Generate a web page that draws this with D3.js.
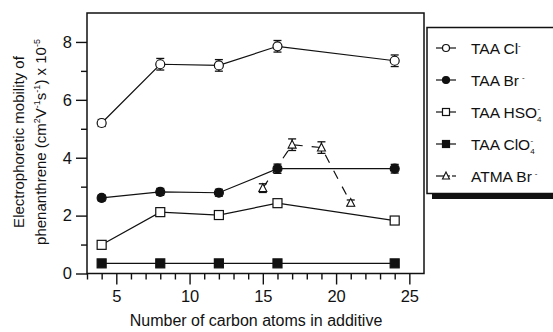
<!DOCTYPE html>
<html><head><meta charset="utf-8">
<script src="https://cdn.jsdelivr.net/npm/d3@7"></script>
<style>
body{margin:0;background:#fff;}
svg{display:block;font-family:Arial,"Liberation Sans",sans-serif;}
</style></head>
<body><svg id="c" width="553" height="332"></svg>
<script>
// Data
const clX = [4, 8, 12, 16, 24];
const clY = [5.2, 7.23, 7.19, 7.85, 7.35];
const clErr = [0.12, 0.2, 0.2, 0.2, 0.2];
const brX = [4, 8, 12, 16, 24];
const brY = [2.61, 2.82, 2.79, 3.62, 3.62];
const brErr = [0.1, 0.12, 0.12, 0.16, 0.15];
const hsX = [4, 8, 12, 16, 24];
const hsY = [0.99, 2.12, 2.02, 2.43, 1.83];
const clo4X = [4, 8, 12, 16, 24];
const clo4Y = [0.35, 0.35, 0.35, 0.35, 0.35];
const atX = [15, 17, 19, 21];
const atY = [2.95, 4.45, 4.35, 2.44];
const atErr = [0.15, 0.2, 0.2, 0.1];
const xMajor = [5, 10, 15, 20, 25];
const yMajor = [0, 2, 4, 6, 8];
const legendNames = ["TAA Cl", "TAA Br", "TAA HSO", "TAA ClO", "ATMA Br"];

const svg = d3.select("#c");
const x = d3.scaleLinear().domain([3, 26]).range([87, 424]);
const y = d3.scaleLinear().domain([0, 9]).range([273.5, 13]);
const ink = "#111";
const FF = "Arial,'Liberation Sans',sans-serif";

// frame
svg.append("rect").attr("x", 87).attr("y", 13).attr("width", 424-87).attr("height", 273.5-13)
  .attr("fill", "none").attr("stroke", ink).attr("stroke-width", 1.5);

// x axis
const xMinor = d3.range(3, 26).filter(v => v % 5 !== 0);
svg.append("g").attr("transform", "translate(0,273.5)")
  .call(d3.axisBottom(x).tickValues(xMinor).tickSize(6).tickFormat(""))
  .call(g => g.select(".domain").remove());
svg.append("g").attr("transform", "translate(0,273.5)")
  .call(d3.axisBottom(x).tickValues(xMajor).tickSize(11).tickPadding(6).tickFormat(d3.format("d")))
  .call(g => g.select(".domain").remove())
  .call(g => g.selectAll("text").attr("font-size", 16.5).attr("fill", ink).attr("font-family", FF));
// y axis
const yMinor = [1, 3, 5, 7];
svg.append("g").attr("transform", "translate(87,0)")
  .call(d3.axisLeft(y).tickValues(yMinor).tickSize(6).tickFormat(""))
  .call(g => g.select(".domain").remove());
svg.append("g").attr("transform", "translate(87,0)")
  .call(d3.axisLeft(y).tickValues(yMajor).tickSize(11).tickPadding(4).tickFormat(d3.format("d")))
  .call(g => g.select(".domain").remove())
  .call(g => g.selectAll("text").attr("font-size", 16.5).attr("fill", ink).attr("font-family", FF));
svg.selectAll(".tick line").attr("stroke", ink).attr("stroke-width", 1.4);

// axis labels
svg.append("text").attr("x", 256).attr("y", 326).attr("text-anchor", "middle")
  .attr("font-size", 16).attr("fill", ink).text("Number of carbon atoms in additive");
const yl = svg.append("text").attr("transform", "translate(0,142) rotate(-90)")
  .attr("text-anchor", "middle").attr("font-size", 15).attr("fill", ink);
yl.append("tspan").attr("x", 0).attr("y", 24).text("Electrophoretic mobility of");
const yl2 = yl.append("tspan").attr("x", 0).attr("y", 46);
yl2.text("phenanthrene (cm");
yl2.append("tspan").attr("dy", -6).attr("font-size", 9).text("2");
yl2.append("tspan").attr("dy", 6).text("V");
yl2.append("tspan").attr("dy", -6).attr("font-size", 9).text("-1");
yl2.append("tspan").attr("dy", 6).text("s");
yl2.append("tspan").attr("dy", -6).attr("font-size", 9).text("-1");
yl2.append("tspan").attr("dy", 6).text(") x 10");
yl2.append("tspan").attr("dy", -6).attr("font-size", 9).text("-5");

// series helpers
function zip(xs, ys, es) { return xs.map((v, i) => ({x: v, y: ys[i], e: es ? es[i] : 0})); }
const line = d3.line().x(d => x(d.x)).y(d => y(d.y));
function drawLine(data, dash) {
  svg.append("path").datum(data).attr("d", line).attr("fill", "none")
    .attr("stroke", ink).attr("stroke-width", 1.2).attr("stroke-dasharray", dash || null);
}
function drawErr(data) {
  data.filter(d => d.e > 0).forEach(d => {
    const g = svg.append("g").attr("stroke", ink).attr("stroke-width", 1.3);
    g.append("line").attr("x1", x(d.x)).attr("x2", x(d.x)).attr("y1", y(d.y - d.e)).attr("y2", y(d.y + d.e));
    g.append("line").attr("x1", x(d.x)-4).attr("x2", x(d.x)+4).attr("y1", y(d.y - d.e)).attr("y2", y(d.y - d.e));
    g.append("line").attr("x1", x(d.x)-4).attr("x2", x(d.x)+4).attr("y1", y(d.y + d.e)).attr("y2", y(d.y + d.e));
  });
}
function marker(g, type, cx, cy, s) {
  if (type === "oc" || type === "fc") {
    g.append("circle").attr("cx", cx).attr("cy", cy).attr("r", s/2)
      .attr("fill", type === "fc" ? ink : "#fff").attr("stroke", ink).attr("stroke-width", 1.2);
  } else if (type === "os" || type === "fs") {
    g.append("rect").attr("x", cx - s/2).attr("y", cy - s/2).attr("width", s).attr("height", s)
      .attr("fill", type === "fs" ? ink : "#fff").attr("stroke", ink).attr("stroke-width", 1.2);
  } else if (type === "ot") {
    const h = s * 0.85;
    g.append("path").attr("d", `M${cx},${cy - h/2 - 1}L${cx + s/2},${cy + h/2}L${cx - s/2},${cy + h/2}Z`)
      .attr("fill", "#fff").attr("stroke", ink).attr("stroke-width", 1.1);
  }
}
function drawMarkers(data, type, s) {
  const g = svg.append("g");
  data.forEach(d => marker(g, type, x(d.x), y(d.y), s));
}

const series = [
  {data: zip(clX, clY, clErr), type: "oc", dash: null, s: 9},
  {data: zip(brX, brY, brErr), type: "fc", dash: null, s: 9},
  {data: zip(hsX, hsY), type: "os", dash: null, s: 9},
  {data: zip(clo4X, clo4Y), type: "fs", dash: null, s: 9},
  {data: zip(atX, atY, atErr), type: "ot", dash: "9,9", s: 8}
];
series.forEach(s => drawLine(s.data, s.dash));
series.forEach(s => { drawErr(s.data); drawMarkers(s.data, s.type, s.s); });

// legend
svg.append("rect").attr("x", 432).attr("y", 193).attr("width", 130).attr("height", 6).attr("fill", ink);
svg.append("rect").attr("x", 427).attr("y", 27.5).attr("width", 140).attr("height", 166)
  .attr("fill", "#fff").attr("stroke", ink).attr("stroke-width", 1.5);
const lg = svg.append("g");
series.forEach((s, i) => {
  const cy = 48 + i * 32;
  lg.append("line").attr("x1", 436).attr("x2", s.dash ? 450 : 456).attr("y1", cy).attr("y2", cy)
    .attr("stroke", ink).attr("stroke-width", 1.2);
  if (s.dash) lg.append("line").attr("x1", 452).attr("x2", 456).attr("y1", cy).attr("y2", cy)
    .attr("stroke", ink).attr("stroke-width", 1.2);
  marker(lg, s.type, 446, cy, 7);
  const t = lg.append("text").attr("x", 471).attr("y", cy + 5.5).attr("font-size", 15.5).attr("fill", ink);
  t.append("tspan").text(legendNames[i]);
  if (i === 2 || i === 3) {
    t.append("tspan").attr("dy", 4).attr("font-size", 8).text("4");
    t.append("tspan").attr("dy", -11).attr("dx", -4).attr("font-size", 8).text("-");
  } else {
    t.append("tspan").attr("dy", -6).attr("font-size", 8).attr("dx", i === 0 ? 0 : 3).text("-");
  }
});
</script></body></html>
